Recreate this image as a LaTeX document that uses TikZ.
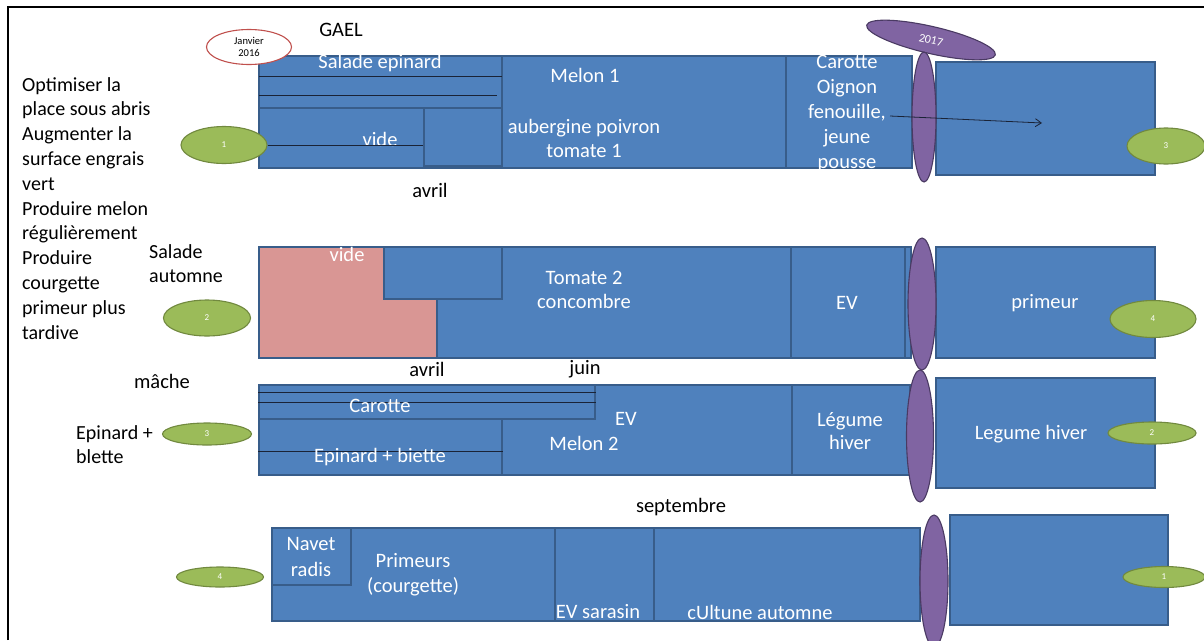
\documentclass[tikz,border=0pt]{standalone}
\usepackage{fontspec}
\setmainfont{Carlito}
\usetikzlibrary{shapes.geometric,arrows.meta}
\definecolor{blueF}{HTML}{4F81BD}
\definecolor{blueD}{HTML}{385D8A}
\definecolor{pinkF}{HTML}{D99694}
\definecolor{purpF}{HTML}{8064A2}
\definecolor{purpD}{HTML}{4A3A63}
\definecolor{greenF}{HTML}{9BBB59}
\definecolor{greenD}{HTML}{71893F}
\definecolor{redD}{HTML}{C0504D}
\definecolor{inkD}{HTML}{1A2336}
\newcommand{\pbox}[6][]{\node[blk,#1,minimum width={(#4-#2)*1pt},minimum height={(#5-#3)*1pt}] (#6) at ({(#2+#4)/2},{(#3+#5)/2}) {};}
\begin{document}
\begin{tikzpicture}[x=1pt,y=-1pt,
  blk/.style={rectangle,draw=blueD,fill=blueF,line width=1.1pt,inner sep=0},
  wt/.style={text=white,font=\fontsize{20.5}{22}\selectfont,inner sep=0,align=center},
  bt/.style={text=black,font=\fontsize{20.5}{22}\selectfont,inner sep=0},
  ell/.style={ellipse,inner sep=0,line width=1.1pt},
  purp/.style={ell,draw=purpD,fill=purpF},
  grn/.style={ell,draw=greenD,fill=greenF,text=white,font=\fontsize{9}{10}\selectfont},
  thinl/.style={draw=inkD,line width=0.8pt}]
\useasboundingbox (0,0) rectangle (1204,640);
\fill[white] (0,0) rectangle (1204,640);
% frame
\coordinate (fa) at (8,640);
\coordinate (fb) at (8,7);
\coordinate (fc) at (1204,7);
\draw[line width=1.6pt] (fa) -- (fb) -- (fc);

% ---------- titles / side text
\node[bt] (gael) at (341,30) {GAEL};
\node[bt,anchor=north west,align=left,font=\fontsize{20}{24.8}\selectfont] (goals) at (22,77)
 {Optimiser la\\place sous abris\\Augmenter la\\surface engrais\\vert\\Produire melon\\régulièrement\\Produire\\courgette\\primeur plus\\tardive};
\node[bt,anchor=north west,align=left,font=\fontsize{20}{24}\selectfont] (salaut) at (149,244) {Salade\\automne};
\node[bt] (mache) at (162,381) {mâche};
\node[bt,anchor=north west,align=left,font=\fontsize{20}{24}\selectfont] (epbl) at (76,425) {Epinard +\\blette};

% ---------- row 1
\pbox{259}{56}{912}{168}{r1}
\pbox{259}{56}{502}{168}{r1a}
\pbox{259}{108}{424}{168}{r1v}
\pbox{424}{108}{502}{166}{r1w}
\pbox{502}{56}{786}{168}{r1m}
\pbox{786}{56}{912}{168}{r1c}
\coordinate (l1a) at (259,76); \coordinate (l1b) at (502,76);
\coordinate (l2a) at (259,95); \coordinate (l2b) at (497,95);
\draw[thinl] (l1a) -- (l1b);
\draw[thinl] (l2a) -- (l2b);
\node[wt] (t1a) at (380,63) {Salade epinard};
\node[wt] (t1b) at (380,139) {vide};
\node[wt] (t1c) at (585,75) {Melon 1};
\node[wt,font=\fontsize{20.5}{24}\selectfont] (t1d) at (584,138) {aubergine poivron\\tomate 1};
\node[wt,font=\fontsize{20.5}{25}\selectfont] (t1e) at (847,113) {Carotte\\Oignon\\fenouille,\\jeune\\pousse};
\coordinate (fen) at (890,116);
\pbox{936}{62}{1155}{175}{r1r}
\node[ell,draw=redD,fill=white,minimum width=85pt,minimum height=35pt,align=center,font=\fontsize{10.5}{12}\selectfont] (jan) at (249,47) {Janvier\\2016};
\node[purp,minimum width=132pt,minimum height=27pt,rotate=-13,text=white,font=\fontsize{12}{14}\selectfont] (y2017) at (931,40) {2017};
\node[purp,minimum width=24pt,minimum height=130pt] (p1) at (924,117) {};
\node[grn,minimum width=86pt,minimum height=37pt] (g1l) at (224,145) {1};
\node[grn,minimum width=78pt,minimum height=36pt] (g1r) at (1166,146) {3};
\draw[thinl] (g1l.east) -- (g1l.east -| r1w.west);
\coordinate (arrEnd) at (1042,123);
\draw[thinl,-{Straight Barb[length=6pt,width=8pt]}] (fen) -- (arrEnd);
\node[bt] (avr1) at (430,190) {avril};

% ---------- row 2
\pbox{259}{247}{911}{358}{r2}
\node[rectangle,draw=blueD,fill=pinkF,line width=1.1pt,inner sep=0,minimum width=178pt,minimum height=111pt] (r2p) at (348,302.5) {};
\pbox{384}{247}{502}{299}{r2s}
\pbox{791}{247}{905}{358}{r2e}
\node[wt] (t2a) at (347,254) {vide};
\node[wt,font=\fontsize{20.5}{24}\selectfont] (t2b) at (584,290) {Tomate 2\\concombre};
\node[wt] (t2c) at (847,303) {EV};
\pbox{936}{247}{1155}{358}{r2r}
\node[wt] (t2d) at (1045,303) {primeur};
\node[purp,minimum width=28pt,minimum height=132pt] (p2) at (922,304) {};
\node[grn,minimum width=87pt,minimum height=36pt] (g2l) at (207,318) {2};
\node[grn,minimum width=86pt,minimum height=37pt] (g2r) at (1153,319) {4};
\node[bt] (avr2) at (427,369) {avril};
\node[bt] (juin) at (585,369) {juin};

% ---------- row 3
\pbox{259}{385}{910}{475}{r3}
\pbox{259}{385}{502}{475}{r3a}
\pbox{259}{385}{595}{419}{r3c}
\pbox{792}{385}{910}{475}{r3l}
\draw[thinl] (r3a.west |- 0,392) -- (r3c.east |- 0,392);
\draw[thinl] (r3a.west |- 0,402) -- (r3c.east |- 0,402);
\draw[thinl] (r3a.west |- 0,451) -- (r3a.east |- 0,451);
\node[wt] (t3a) at (380,406) {Carotte};
\node[wt] (t3b) at (380,457) {Epinard + biette};
\node[wt] (t3c) at (626,419) {EV};
\node[wt] (t3d) at (584,443) {Melon 2};
\node[wt,font=\fontsize{20.5}{23}\selectfont] (t3e) at (850,431) {Légume\\hiver};
\pbox{936}{378}{1155}{488}{r3r}
\node[wt] (t3f) at (1031,434) {Legume hiver};
\node[purp,minimum width=27pt,minimum height=132pt] (p3) at (920,436) {};
\node[grn,minimum width=89pt,minimum height=22pt] (g3l) at (207,434) {3};
\node[grn,minimum width=88pt,minimum height=22pt] (g3r) at (1152,433) {2};
\node[bt] (sept) at (681,507) {septembre};

% ---------- row 4
\pbox{272}{528}{920}{621}{r4}
\pbox{272}{528}{351}{585}{r4n}
\pbox{555}{528}{654}{621}{r4e}
\node[wt,font=\fontsize{20.5}{26}\selectfont] (t4a) at (311,557) {Navet\\radis};
\node[wt,font=\fontsize{20.5}{25}\selectfont] (t4b) at (413,575) {Primeurs\\(courgette)};
\node[wt] (t4c) at (598,612) {EV sarasin};
\node[wt] (t4d) at (760,612) {cUltune automne};
\pbox{950}{515}{1168}{625}{r4r}
\node[purp,minimum width=28pt,minimum height=132pt] (p4) at (934,581) {};
\node[grn,minimum width=87pt,minimum height=20pt] (g4l) at (220,577) {4};
\node[grn,minimum width=82pt,minimum height=21pt] (g4r) at (1164,577) {1};
\end{tikzpicture}
\end{document}
